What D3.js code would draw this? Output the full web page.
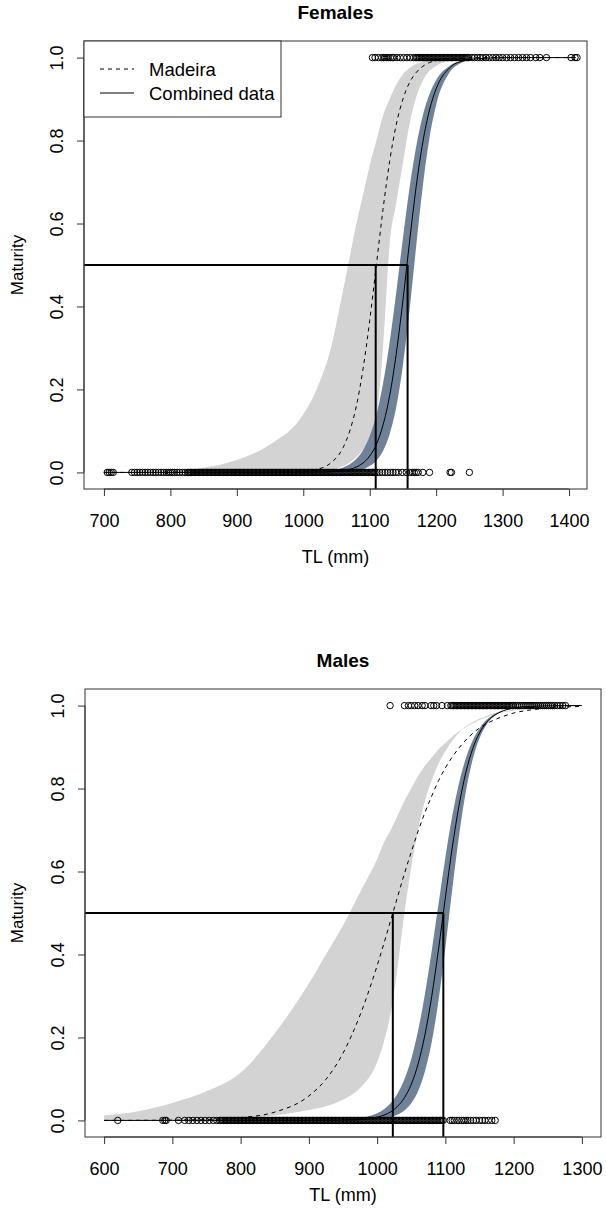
<!DOCTYPE html>
<html>
<head>
<meta charset="utf-8">
<script src="https://cdn.jsdelivr.net/npm/d3@7"></script>
<style>
body { margin: 0; background: #fff; }
text { font-family: "Liberation Sans", Arial, sans-serif; fill: #000; }
</style>
</head>
<body>
<script>
// ---- Females: fitted curves and bands ----
var femGrid = [700,750,800,850,900,950,1000,1020,1040,1060,1070,1080,1090,1100,1110,1120,1130,1140,1150,1160,1170,1180,1190,1200,1220,1240,1260,1300,1350,1410];
var femMadeira  = [0,0,0,0,0.00001,0.00015,0.0024,0.007,0.021,0.060,0.10,0.161,0.25,0.366,0.5,0.634,0.75,0.839,0.90,0.94,0.964,0.979,0.988,0.993,0.998,0.999,1,1,1,1];
var femCombined = [0,0,0,0,0,0.00002,0.00014,0.00043,0.0013,0.0042,0.0074,0.013,0.0227,0.0395,0.0675,0.114,0.185,0.287,0.415,0.557,0.690,0.797,0.874,0.925,0.975,0.992,0.997,0.9997,1,1];
var femGreyHi = [0,0,0.001,0.011,0.03,0.067,0.14,0.20,0.29,0.44,0.52,0.60,0.67,0.74,0.80,0.86,0.90,0.935,0.96,0.975,0.985,0.99,0.994,0.996,0.998,0.999,1,1,1,1];
var femGreyLo = [0,0,0,0,0,0,0.0005,0.002,0.006,0.015,0.024,0.037,0.055,0.08,0.13,0.30,0.55,0.65,0.745,0.84,0.905,0.945,0.968,0.98,0.993,0.997,0.999,1,1,1];
var femBlueHi = [0,0,0,0,0,0.00004,0.0005,0.0015,0.0042,0.0119,0.0198,0.033,0.054,0.088,0.139,0.214,0.314,0.435,0.565,0.686,0.786,0.861,0.912,0.946,0.980,0.993,0.9975,0.9997,1,1];
var femBlueLo = [0,0,0,0,0,0,0.00003,0.0001,0.0004,0.0013,0.0024,0.0045,0.0084,0.0155,0.0284,0.0516,0.092,0.158,0.259,0.393,0.546,0.691,0.807,0.886,0.964,0.989,0.997,0.9997,1,1];
var femL50 = [1109, 1157]; // Madeira, combined

// observed TL of immature (0) and mature (1) females
var femImm = [705,708,711,714,742,746,750,754,758,762,766,770,774,778,782,786,790,794,797,800,803,806,810,814,818,822,826,
  828,830,832,834,836,838,840,842,844,846,848,850,852,854,856,858,860,862,864,866,868,870,872,874,876,878,880,882,884,886,
  888,890,892,894,896,898,900,902,904,906,908,910,912,914,916,918,920,922,924,926,928,930,932,934,936,938,940,942,944,946,
  948,950,952,954,956,958,960,962,964,966,968,970,972,974,976,978,980,982,984,986,988,990,992,994,996,998,1000,1002,1004,1006,
  1008,1010,1012,1014,1016,1018,1020,1022,1024,1026,1028,1030,1032,1034,1036,1038,1040,1042,1044,1046,1048,1050,1052,1054,1056,1058,
  1060,1062,1064,1066,1068,1070,1072,1074,1076,1078,1080,1082,1084,1086,1088,1090,1092,1094,1096,1098,1100,1102,1104,1106,1108,
  1111,1115,1119,1123,1127,1131,1135,1139,1143,1149,1155,1160,1164,1167,1170,1173,1180,1190,1221,1223,1250];
var femMat = [1104,1108,1113,1118,1121,1123,1125,1128,1131,1134,1136,1141,1146,1151,1156,1161,1166,
  1169,1171,1173,1175,1177,1179,1181,1183,1185,1187,1189,1191,1193,1195,1197,1199,1201,1203,1205,1207,1209,1211,1213,1215,1217,
  1219,1221,1223,1225,1227,1229,1231,1233,1235,1237,1239,1241,1243,1245,1247,1249,
  1254,1258,1262,1266,1270,1275,1280,1285,1290,1295,1300,1306,1312,1318,1324,1330,1336,1342,1350,1356,1366,1403,1409,1412];

// ---- Males ----
var maleGrid = [600,650,700,750,800,850,900,925,950,975,1000,1010,1020,1030,1040,1050,1060,1070,1080,1090,1100,1110,1120,1130,1140,1150,1160,1180,1200,1225,1250,1275,1300];
var maleMadeira  = [0.00007,0.00023,0.0007,0.0021,0.0066,0.020,0.059,0.099,0.162,0.254,0.373,0.427,0.483,0.539,0.595,0.647,0.697,0.742,0.782,0.819,0.850,0.876,0.898,0.917,0.933,0.946,0.956,0.971,0.982,0.9895,0.994,0.9966,0.998];
var maleCombined = [0,0,0,0,0,0,0.00005,0.00018,0.00064,0.0022,0.0078,0.0127,0.0208,0.034,0.0547,0.087,0.136,0.206,0.299,0.413,0.537,0.657,0.759,0.839,0.896,0.934,0.959,0.984,0.994,0.998,0.9995,1,1];
var maleGreyHi = [0.012,0.022,0.042,0.07,0.115,0.21,0.33,0.40,0.47,0.55,0.63,0.67,0.70,0.735,0.77,0.80,0.83,0.855,0.875,0.895,0.91,0.925,0.938,0.948,0.957,0.965,0.972,0.982,0.988,0.993,0.996,0.998,0.999];
var maleGreyLo = [0,0.0002,0.0005,0.002,0.005,0.012,0.025,0.034,0.05,0.078,0.14,0.19,0.26,0.37,0.5,0.61,0.7,0.77,0.82,0.86,0.89,0.915,0.935,0.95,0.96,0.968,0.975,0.985,0.99,0.995,0.997,0.999,0.9995];
var maleBlueHi = [0,0,0,0,0,0.00002,0.00018,0.00055,0.0017,0.0055,0.0172,0.027,0.042,0.065,0.099,0.148,0.216,0.304,0.409,0.522,0.634,0.733,0.813,0.873,0.916,0.945,0.965,0.986,0.994,0.998,0.9994,1,1];
var maleBlueLo = [0,0,0,0,0,0,0,0,0,0.0005,0.0026,0.0046,0.008,0.014,0.024,0.0415,0.0705,0.118,0.189,0.29,0.417,0.556,0.686,0.793,0.87,0.921,0.953,0.984,0.995,0.9987,0.9997,1,1];
var maleL50 = [1023, 1097];

var maleImm = [620,686,689,691,709,718,724,730,736,742,748,754,760,765,769,
  771,773,775,777,779,781,783,785,787,789,791,793,795,797,799,801,803,805,807,809,811,813,815,817,819,821,823,825,827,829,
  831,833,835,837,839,841,843,845,847,849,851,853,855,857,859,861,863,865,867,869,871,873,875,877,879,881,883,885,887,889,
  891,893,895,897,899,901,903,905,907,909,911,913,915,917,919,921,923,925,927,929,931,933,935,937,939,941,943,945,947,949,
  951,953,955,957,959,961,963,965,967,969,971,973,975,977,979,981,983,985,987,989,991,993,995,997,999,1001,1003,1005,1007,1009,
  1011,1013,1015,1017,1019,1021,1023,1025,1027,1029,1031,1033,1035,1037,1039,1041,1043,1045,1047,1049,1051,1053,1055,1057,1059,
  1061,1063,1065,1067,1069,1071,1073,1075,1077,1079,1081,1083,1085,1087,1089,1091,1093,1095,1097,
  1107,1110,1113,1117,1120,1124,1127,1130,1133,1137,1141,1145,1150,1154,1158,1163,1168,1173];
var maleMat = [1019,1040,1046,1050,1055,1060,1066,1070,1079,1083,1087,1095,1103,
  1108,1110,1112,1114,1116,1118,1120,1122,1124,1126,1128,1130,1132,1134,1136,1138,1140,1142,1144,1146,1148,1150,1152,1154,1156,1158,
  1160,1162,1164,1166,1168,1170,1172,1174,1176,1178,1180,1182,1184,1186,1188,1190,1192,1194,1196,1198,1200,
  1203,1206,1209,1212,1215,1218,1221,1224,1227,1230,1233,1236,1239,1242,1245,1248,1251,1254,1257,1260,1264,1268,1272,1276];

var yTicks = [0, 0.2, 0.4, 0.6, 0.8, 1.0];
var femXTicks = [700, 800, 900, 1000, 1100, 1200, 1300, 1400];
var maleXTicks = [600, 700, 800, 900, 1000, 1100, 1200, 1300];

var svg = d3.select("body").append("svg")
    .attr("width", 606)
    .attr("height", 1215);

function panel(o) {
    var x = d3.scaleLinear().domain(o.xDomain).range([o.left, o.right]);
    var y = d3.scaleLinear().domain([-0.04, 1.04]).range([o.bottom, o.top]);
    var g = svg.append("g");

    g.append("clipPath").attr("id", o.id)
        .append("rect")
        .attr("x", o.left).attr("y", o.top)
        .attr("width", o.right - o.left).attr("height", o.bottom - o.top);

    var plot = g.append("g").attr("clip-path", "url(#" + o.id + ")");

    var band = function (lo, hi) {
        return d3.area()
            .x(function (d, i) { return x(o.grid[i]); })
            .y0(function (d, i) { return y(lo[i]); })
            .y1(function (d, i) { return y(hi[i]); })
            .curve(d3.curveMonotoneX)(o.grid);
    };
    var curve = function (vals) {
        return d3.line()
            .x(function (d, i) { return x(o.grid[i]); })
            .y(function (d) { return y(d); })
            .curve(d3.curveMonotoneX)(vals);
    };

    plot.append("path").attr("d", band(o.greyLo, o.greyHi)).attr("fill", "#d3d3d3");
    plot.append("path").attr("d", band(o.blueLo, o.blueHi)).attr("fill", "#6f8297");
    plot.append("path").attr("d", curve(o.madeira))
        .attr("fill", "none").attr("stroke", "#000").attr("stroke-width", 1)
        .attr("stroke-dasharray", "4,4");
    plot.append("path").attr("d", curve(o.combined))
        .attr("fill", "none").attr("stroke", "#000").attr("stroke-width", 1);

    plot.selectAll(".imm").data(o.imm).enter().append("circle")
        .attr("cx", function (d) { return x(d); })
        .attr("cy", y(0))
        .attr("r", 3.2)
        .attr("fill", "none").attr("stroke", "#000").attr("stroke-width", 1);
    plot.selectAll(".mat").data(o.mat).enter().append("circle")
        .attr("cx", function (d) { return x(d); })
        .attr("cy", y(1))
        .attr("r", 3.2)
        .attr("fill", "none").attr("stroke", "#000").attr("stroke-width", 1);

    // L50 guide lines
    plot.append("line")
        .attr("x1", o.left).attr("x2", x(o.l50[1]))
        .attr("y1", y(0.5)).attr("y2", y(0.5))
        .attr("stroke", "#000").attr("stroke-width", 2);
    o.l50.forEach(function (v) {
        plot.append("line")
            .attr("x1", x(v)).attr("x2", x(v))
            .attr("y1", y(0.5)).attr("y2", o.bottom)
            .attr("stroke", "#000").attr("stroke-width", 2);
    });

    // box
    g.append("rect")
        .attr("x", o.left).attr("y", o.top)
        .attr("width", o.right - o.left).attr("height", o.bottom - o.top)
        .attr("fill", "none").attr("stroke", "#333").attr("stroke-width", 1);

    // axes
    var xa = g.append("g").attr("transform", "translate(0," + o.bottom + ")")
        .call(d3.axisBottom(x).tickValues(o.xTicks).tickFormat(d3.format("d"))
            .tickSize(7).tickPadding(18).tickSizeOuter(0));
    xa.select(".domain").remove();
    xa.append("line")
        .attr("x1", x(o.xTicks[0])).attr("x2", x(o.xTicks[o.xTicks.length - 1]))
        .attr("stroke", "#333");
    xa.selectAll("text").attr("font-size", 18).attr("font-family", null).attr("fill", "#000");
    xa.selectAll(".tick line").attr("stroke", "#333");

    var ya = g.append("g").attr("transform", "translate(" + o.left + ",0)")
        .call(d3.axisLeft(y).tickValues(yTicks).tickFormat(d3.format(".1f")).tickSize(7).tickSizeOuter(0));
    ya.select(".domain").remove();
    ya.append("line").attr("y1", y(0)).attr("y2", y(1)).attr("stroke", "#333");
    ya.selectAll(".tick line").attr("stroke", "#333");
    ya.selectAll("text")
        .attr("font-size", 18).attr("font-family", null).attr("fill", "#000")
        .attr("transform", "rotate(-90)")
        .attr("x", 0).attr("y", -21).attr("dy", 0)
        .attr("text-anchor", "middle");

    var cx = (o.left + o.right) / 2;
    g.append("text").attr("x", cx).attr("y", o.titleY)
        .attr("text-anchor", "middle").attr("font-size", 19).attr("font-weight", "bold")
        .text(o.title);
    g.append("text").attr("x", cx).attr("y", o.xlabY)
        .attr("text-anchor", "middle").attr("font-size", 18)
        .text("TL (mm)");
    g.append("text")
        .attr("transform", "translate(23," + ((o.top + o.bottom) / 2) + ") rotate(-90)")
        .attr("text-anchor", "middle").attr("font-size", 17)
        .text("Maturity");

    if (o.legend) {
        var lg = g.append("g").attr("transform", "translate(" + o.left + "," + o.top + ")");
        lg.append("rect").attr("width", 197).attr("height", 76)
            .attr("fill", "#fff").attr("stroke", "#333");
        lg.append("line").attr("x1", 16).attr("x2", 50).attr("y1", 28).attr("y2", 28)
            .attr("stroke", "#000").attr("stroke-dasharray", "4,4");
        lg.append("line").attr("x1", 16).attr("x2", 50).attr("y1", 52).attr("y2", 52)
            .attr("stroke", "#000");
        lg.append("text").attr("x", 65).attr("y", 35).attr("font-size", 18.5).text("Madeira");
        lg.append("text").attr("x", 65).attr("y", 59).attr("font-size", 18.5).text("Combined data");
    }
}

panel({
    id: "clipF", left: 84, right: 587, top: 41, bottom: 489,
    xDomain: [670, 1427], xTicks: femXTicks, grid: femGrid,
    madeira: femMadeira, combined: femCombined,
    greyLo: femGreyLo, greyHi: femGreyHi, blueLo: femBlueLo, blueHi: femBlueHi,
    imm: femImm, mat: femMat, l50: femL50,
    title: "Females", titleY: 19, xlabY: 563, legend: true
});
panel({
    id: "clipM", left: 85, right: 601, top: 689, bottom: 1137,
    xDomain: [572, 1328], xTicks: maleXTicks, grid: maleGrid,
    madeira: maleMadeira, combined: maleCombined,
    greyLo: maleGreyLo, greyHi: maleGreyHi, blueLo: maleBlueLo, blueHi: maleBlueHi,
    imm: maleImm, mat: maleMat, l50: maleL50,
    title: "Males", titleY: 667, xlabY: 1201, legend: false
});
</script>
</body>
</html>
